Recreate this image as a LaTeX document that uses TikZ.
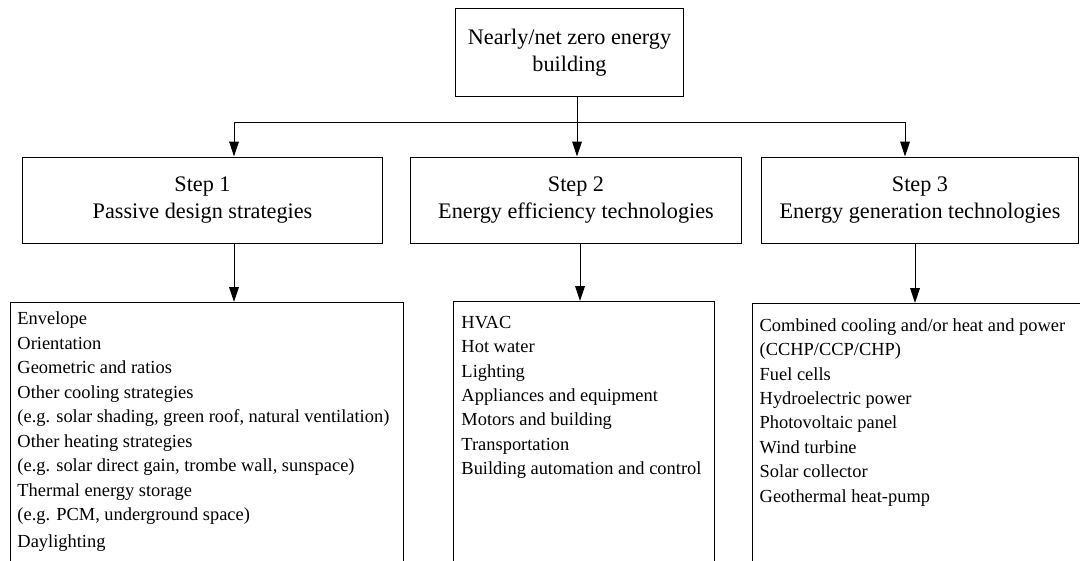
\documentclass[tikz,border=0pt]{standalone}
\usepackage{fontspec}
\setmainfont{Liberation Serif}
\usetikzlibrary{arrows.meta,positioning}

\tikzset{
  arr/.style={-{Triangle[length=0.37cm, width=0.24cm]}},
  headbox/.style={draw, align=center, inner sep=2pt, font=\fontsize{15.8}{19.1}\selectfont},
  stepbox/.style={headbox, minimum height=2.15cm},
  listbox/.style={draw, anchor=north west, minimum height=7cm},
  listtext/.style={anchor=north west, align=left, inner sep=0pt, font=\fontsize{13.1}{17.4}\selectfont}
}

\begin{document}
\begin{tikzpicture}[x=0.025cm, y=-0.025cm, line width=0.7pt]
        \useasboundingbox (0,0) rectangle (1080,560);
        \clip (0,0) rectangle (1080,560);

        % Top box
        \node[headbox, minimum width=5.675cm, minimum height=2.175cm] (nzeb) at (569.5,52.5) {Nearly/net zero energy\\building};

        % Step boxes
        \node[stepbox, minimum width=8.975cm] (step1) at (202.5,200) {Step 1\\Passive design strategies};
        \node[stepbox, minimum width=8.25cm] (step2) at (576,200) {Step 2\\Energy efficiency technologies};
        \node[stepbox, minimum width=7.9cm] (step3) at (920,200) {Step 3\\Energy generation technologies};

        % List boxes (run off the bottom)
        \node[listbox, minimum width=9.825cm] (list1) at (10,302) {};
        \node[listbox, minimum width=6.525cm] (list2) at (453,301) {};
        \node[listbox, minimum width=8.5cm] (list3) at (752,303) {};

        % List texts
        \node[listtext] (text1) at ([xshift=0.175cm, yshift=-0.24cm]list1.north west) {Envelope\\Orientation\\Geometric and ratios\\Other cooling strategies\\(e.g. solar shading, green roof, natural ventilation)\\Other heating strategies\\(e.g. solar direct gain, trombe wall, sunspace)\\Thermal energy storage\\(e.g. PCM, underground space)\\[2pt]Daylighting};
        \node[listtext] (text2) at ([xshift=0.2cm, yshift=-0.36cm]list2.north west) {HVAC\\Hot water\\Lighting\\Appliances and equipment\\Motors and building\\Transportation\\Building automation and control};
        \node[listtext] (text3) at ([xshift=0.18cm, yshift=-0.37cm]list3.north west) {Combined cooling and/or heat and power\\(CCHP/CCP/CHP)\\Fuel cells\\Hydroelectric power\\Photovoltaic panel\\Wind turbine\\Solar collector\\Geothermal heat-pump};

        % Split from the top box
        \coordinate (hub) at (577,122);
        \coordinate (j1) at (234,122);
        \coordinate (j3) at (905,122);
        \draw (nzeb.south -| hub) -- (hub);
        \draw (j1) -- (j3);
        \draw[arr] (j1) -- (j1 |- step1.north);
        \draw[arr] (hub) -- (hub |- step2.north);
        \draw[arr] (j3) -- (j3 |- step3.north);

        % Step to list arrows
        \foreach \i/\x in {1/234, 2/580, 3/915} {
            \coordinate (drop\i) at (\x,0);
            \draw[arr] (step\i.south -| drop\i) -- (list\i.north -| drop\i);
        }
    \end{tikzpicture}
\end{document}
